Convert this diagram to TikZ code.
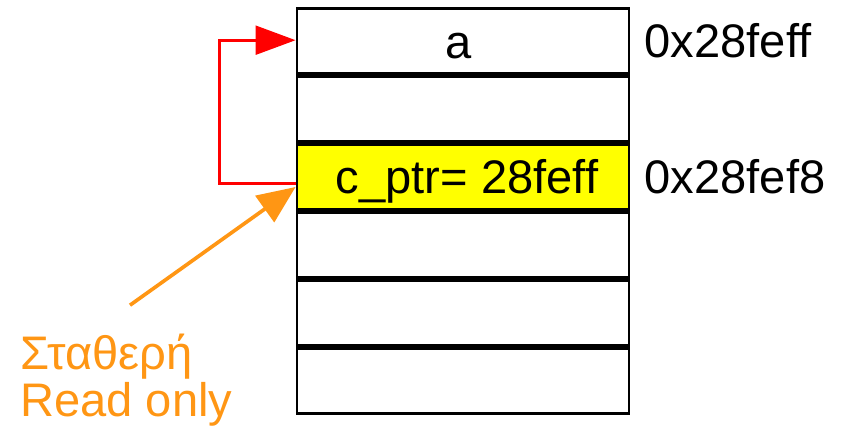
\documentclass[tikz,border=0pt]{standalone}
\usepackage{fontspec}
\setmainfont{Liberation Sans}
\usepackage{xcolor}
\usetikzlibrary{positioning,arrows.meta}

\definecolor{cellyellow}{RGB}{255,255,0}
\definecolor{notecolor}{RGB}{255,150,20}

\begin{document}
\begin{tikzpicture}[
  cell/.style={draw, line width=2pt, minimum width=8.3cm, minimum height=1.62cm, inner sep=0pt},
  addr/.style={right=0.35cm, inner sep=0pt},
  every node/.style={font=\fontsize{33.5}{34}\selectfont}
]
\useasboundingbox (0,0) rectangle (21.1,-10.75);
% Draw the memory cells
\foreach \i in {1,...,6}
  \node[cell] (cell\i) at (11.575,{-1.025-1.7*(\i-1)}) {};
% The pointer cell is highlighted
\node[cell, fill=cellyellow] (cell3) at (11.575,{-1.025-1.7*2}) {};
% Contents
\node at ([xshift=-0.1cm, yshift=-0.12cm]cell1.center) {a};
\node at ([xshift=0.1cm, yshift=-0.1cm]cell3.center) {c\_ptr= 28feff};
% Addresses
\node[addr] (addr1) at (cell1.east) {0x28feff};
\node[addr] (addr3) at (cell3.east) {0x28fef8};
% Pointer arrow to a
\draw[red, line width=2pt, -{Triangle[length=1cm, width=0.72cm]}]
  ([yshift=-0.17cm]cell3.west) -- ++(-1.9,0) |- ([yshift=0.02cm]cell1.west);
% Note for the constant pointer
\node[notecolor, align=left, anchor=north west, inner sep=0pt] (note) at (0.5,-8.35) {Σταθερή\\[-0.5pt]Read only};
\coordinate (tail) at (3.25,-7.63);
\draw[notecolor, line width=2.6pt, -{Triangle[length=0.95cm, width=0.8cm]}]
  (tail) -- ([yshift=-0.25cm]cell3.west);
\end{tikzpicture}
\end{document}
